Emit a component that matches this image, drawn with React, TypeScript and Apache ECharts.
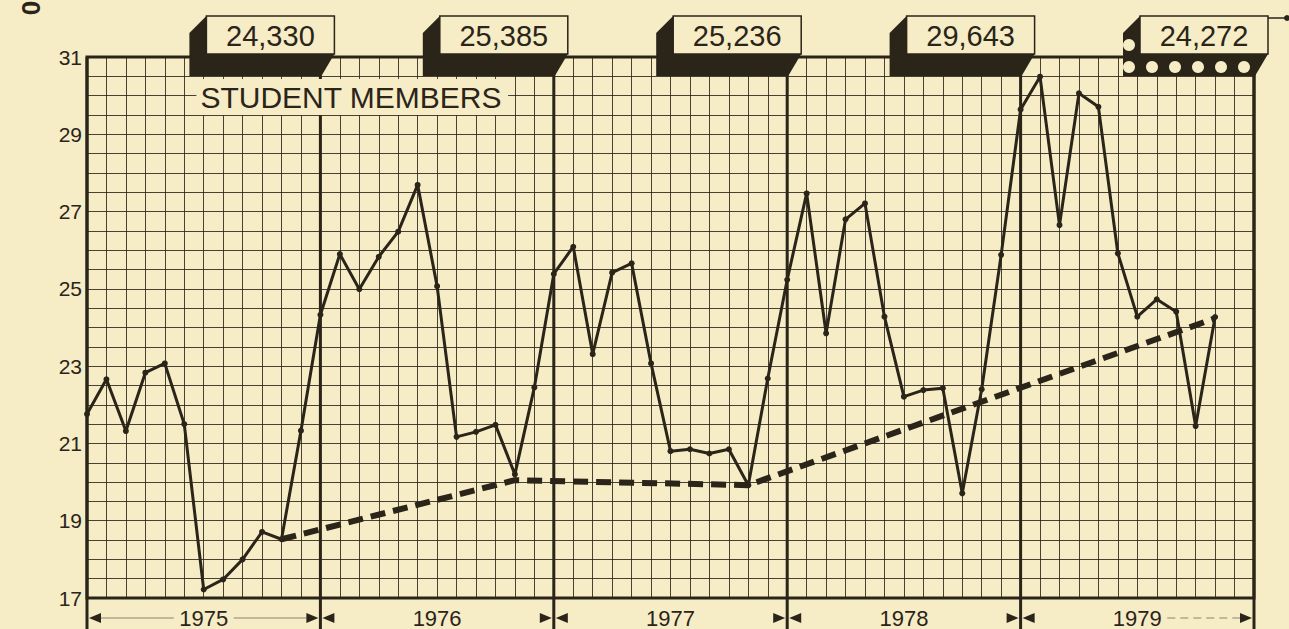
import React, { useEffect, useRef } from 'react';
import * as echarts from 'echarts';

// ---- data ----
const years = ['1975', '1976', '1977', '1978', '1979'];
const monthsPerYear = 12;
// Student members (thousands), monthly, Jan 1975 – Nov 1979
const studentMembers = [
  21.76, 22.66, 21.32, 22.83, 23.07, 21.5, 17.22, 17.48, 18.0, 18.71, 18.52, 21.33,
  24.33, 25.9, 24.99, 25.83, 26.48, 27.69, 25.07, 21.17, 21.3, 21.48, 20.2, 22.45,
  25.385, 26.09, 23.31, 25.42, 25.66, 23.07, 20.8, 20.85, 20.74, 20.85, 19.92, 22.68,
  25.236, 27.47, 23.85, 26.8, 27.21, 24.28, 22.21, 22.38, 22.43, 19.71, 22.4, 25.88,
  29.643, 30.49, 26.65, 30.06, 29.71, 25.92, 24.28, 24.73, 24.41, 21.45, 24.272,
];
const trendMonths = [10, 22, 34, 58];
const trendValues = [18.52, 20.05, 19.92, 24.24];
const yearTotals = ['24,330', '25,385', '25,236', '29,643', '24,272'];
const yMin = 17;
const yMax = 31;
const yStep = 0.5;
const seriesTitle = 'STUDENT MEMBERS';

const INK = '#2a2419';
const PAPER = '#f6ecc6';
const FONT = '"Liberation Sans", Arial, Helvetica, sans-serif';

export default function App() {
  const ref = useRef<HTMLDivElement>(null);

  useEffect(() => {
    document.body.style.margin = '0';
    const chart = echarts.init(ref.current as HTMLDivElement, null, { renderer: 'svg' });
    const xMax = years.length * monthsPerYear;
    chart.setOption({
      animation: false,
      backgroundColor: PAPER,
      grid: {
        left: 87, right: 35, top: 57, bottom: 31,
        show: true, borderColor: INK, borderWidth: 3, backgroundColor: 'transparent',
      },
      xAxis: {
        type: 'value', min: 0, max: xMax, interval: 1,
        axisLabel: { show: false }, axisTick: { show: false }, axisLine: { show: false },
        splitLine: { show: true, lineStyle: { color: INK, width: 1, opacity: 0.85 } },
      },
      yAxis: {
        type: 'value', min: yMin, max: yMax, interval: yStep,
        axisTick: { show: false }, axisLine: { show: false },
        splitLine: { show: true, lineStyle: { color: INK, width: 1, opacity: 0.85 } },
        axisLabel: {
          color: INK, fontSize: 21, fontFamily: FONT, margin: 5,
          formatter: (v: number) => (Number.isInteger(v) && (v - yMin) % 2 === 0 ? String(v) : ''),
        },
      },
      series: [
        {
          type: 'line', name: 'trend',
          data: trendMonths.map((m, i) => [m, trendValues[i]]),
          symbol: 'none',
          lineStyle: { color: INK, width: 6, type: [15, 8] },
          z: 3,
        },
        {
          type: 'line', name: seriesTitle,
          data: studentMembers.map((v, i) => [i, v]),
          symbol: 'circle', symbolSize: 6,
          itemStyle: { color: INK },
          lineStyle: { color: INK, width: 3 },
          z: 4,
        },
      ],
    });

    const px = (x: number, y: number) => chart.convertToPixel({ gridIndex: 0 }, [x, y]) as number[];
    const topY = px(0, yMax)[1];
    const H = 629;
    const W = 1289;
    const ay = 618;
    const g: any[] = [];

    // year boundary lines extending below grid
    for (let k = 0; k <= years.length; k++) {
      const x = px(k * monthsPerYear, yMin)[0];
      g.push({ type: 'line', z: 50, shape: { x1: x, y1: topY, x2: x, y2: H }, style: { stroke: INK, lineWidth: 3 } });
    }

    // year labels with arrows
    years.forEach((yr, k) => {
      const xs = px(k * monthsPerYear, yMin)[0];
      const xe = px((k + 1) * monthsPerYear, yMin)[0];
      const mid = (xs + xe) / 2;
      g.push({ type: 'polygon', z: 50, shape: { points: [[xs + 2, ay], [xs + 14, ay - 5], [xs + 14, ay + 5]] }, style: { fill: INK } });
      g.push({ type: 'polygon', z: 50, shape: { points: [[xe - 2, ay], [xe - 14, ay - 5], [xe - 14, ay + 5]] }, style: { fill: INK } });
      if (k === 0) {
        g.push({ type: 'line', z: 49, shape: { x1: xs + 14, y1: ay, x2: mid - 30, y2: ay }, style: { stroke: '#8c8472', lineWidth: 1 } });
        g.push({ type: 'line', z: 49, shape: { x1: mid + 30, y1: ay, x2: xe - 14, y2: ay }, style: { stroke: '#8c8472', lineWidth: 1 } });
      }
      if (k === years.length - 1) {
        g.push({ type: 'line', z: 49, shape: { x1: mid + 30, y1: ay, x2: xe - 14, y2: ay }, style: { stroke: '#8c8472', lineWidth: 1, lineDash: [8, 5] } });
      }
      g.push({
        type: 'text', z: 51, x: mid, y: ay,
        style: { text: yr, fill: INK, font: `22px ${FONT}`, textAlign: 'center', textVerticalAlign: 'middle' },
      });
    });

    // 3D boxes with yearly figures
    yearTotals.forEach((label, k) => {
      const bx = px((k + 1) * monthsPerYear, yMax)[0];
      const fl = bx - 114;
      const fr = bx + 14;
      const ft = 16;
      const fb = 54;
      g.push({
        type: 'polygon', z: 60,
        shape: { points: [[fl, ft], [fl - 17, ft + 17], [fl - 17, 76], [fr - 13, 76], [fr, fb], [fr, ft]] },
        style: { fill: INK },
      });
      g.push({
        type: 'rect', z: 61, shape: { x: fl, y: ft, width: fr - fl, height: fb - ft },
        style: { fill: PAPER, stroke: INK, lineWidth: 1.5 },
      });
      g.push({
        type: 'text', z: 62, x: (fl + fr) / 2, y: (ft + fb) / 2 + 1,
        style: { text: label, fill: INK, font: `29px ${FONT}`, textAlign: 'center', textVerticalAlign: 'middle' },
      });
      if (k === yearTotals.length - 1) {
        for (let j = 0; j < 6; j++) {
          g.push({ type: 'circle', z: 63, shape: { cx: fl - 11 + j * 23, cy: 67, r: 6 }, style: { fill: PAPER } });
        }
        g.push({ type: 'circle', z: 63, shape: { cx: fl - 11, cy: 45, r: 6 }, style: { fill: PAPER } });
        g.push({ type: 'line', z: 63, shape: { x1: fr, y1: ft + 2, x2: W, y2: ft + 2 }, style: { stroke: INK, lineWidth: 1.5 } });
        g.push({ type: 'circle', z: 63, shape: { cx: W - 2, cy: ft + 2, r: 3 }, style: { fill: INK } });
      }
      if (k === 0) {
        g.push({
          type: 'text', z: 62, x: fl - 10, y: 97,
          style: {
            text: seriesTitle, fill: INK, font: `30px ${FONT}`, textAlign: 'left', textVerticalAlign: 'middle',
            backgroundColor: PAPER, padding: [4, 6, 2, 4],
          },
        });
      }
    });

    // clipped rotated axis unit at top-left
    g.push({
      type: 'text', z: 62, x: 31, y: 8, rotation: Math.PI / 2,
      style: { text: '0', fill: INK, font: `bold 26px ${FONT}`, textAlign: 'center', textVerticalAlign: 'middle' },
    });

    chart.setOption({ graphic: g });

    return () => chart.dispose();
  }, []);

  return <div ref={ref} style={{ width: 1289, height: 629 }} />;
}
